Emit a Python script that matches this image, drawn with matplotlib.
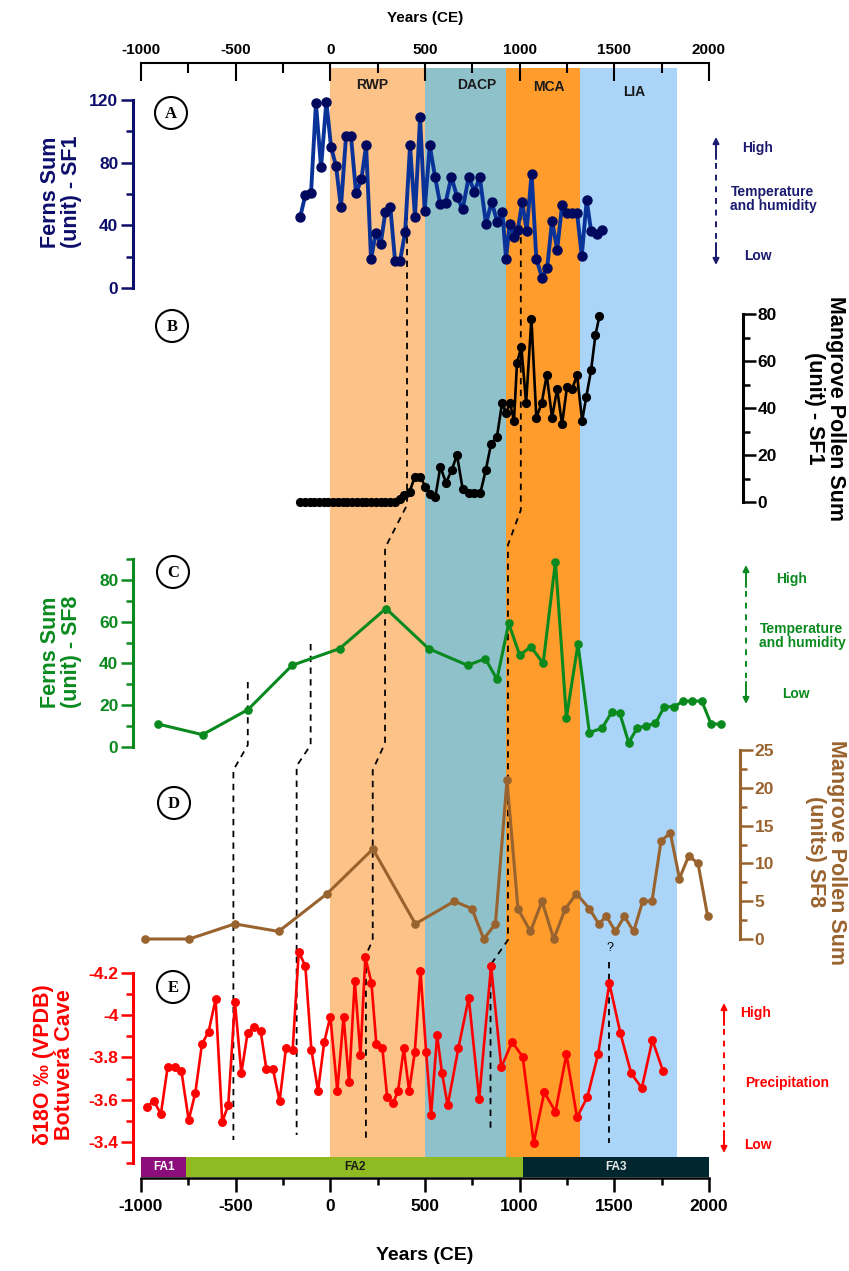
import matplotlib
matplotlib.use('Agg')
import matplotlib.pyplot as plt
from matplotlib.patches import Circle
from matplotlib.ticker import MultipleLocator, FuncFormatter

W, H, DPI = 849, 1271, 100
plt.rcParams['font.family'] = ['Liberation Sans', 'DejaVu Sans']
plt.rcParams['font.weight'] = 'bold'
plt.rcParams['axes.unicode_minus'] = False

# ---------------- data ----------------
# (A) Ferns sum SF1
a_years = [-159, -132, -102, -76, -49, -21, 4, 30, 56, 83, 109, 136, 164, 189, 215, 240,
           266, 291, 317, 342, 368, 395, 421, 447, 474, 498, 525, 553, 580, 609, 639, 670,
           699, 731, 761, 789, 822, 852, 882, 909, 928, 947, 972, 990, 1013, 1037, 1063,
           1088, 1118, 1145, 1171, 1198, 1224, 1250, 1277, 1303, 1328, 1354, 1377, 1407, 1433]
a_vals = [45.5, 59.3, 60.4, 118, 77, 119, 89.8, 77.9, 51.5, 97, 97, 60.4, 69.4, 91, 18.3, 35.3,
          28, 48.7, 51.5, 17.2, 17.2, 35.5, 91, 45.5, 109, 49.3, 91, 71, 53.6, 54.5, 71, 58,
          50.3, 71, 61.3, 71, 40.9, 55.1, 42, 48.6, 18.6, 40.9, 32.6, 36.9, 55, 36.6, 73,
          18.6, 6.7, 12.5, 43, 24.5, 52.8, 47.9, 47.9, 47.9, 20.6, 56, 36.6, 34.2, 36.8]

# (B) Mangrove pollen sum SF1
b_years = [-160, -135, -110, -85, -60, -35, -10, 15, 40, 65, 90, 115, 140, 165, 190, 215, 240,
           265, 290, 315, 340, 366, 388, 419, 446, 475, 502, 528, 555, 581, 611, 641, 669, 699,
           731, 761, 792, 821, 849, 880, 907, 928, 949, 970, 986, 1009, 1034, 1062, 1088, 1116,
           1143, 1171, 1198, 1224, 1250, 1277, 1303, 1330, 1352, 1377, 1400, 1421]
b_vals = [0, 0, 0, 0, 0, 0, 0, 0, 0, 0, 0, 0, 0, 0, 0, 0, 0,
          0, 0, 0, 0, 1.1, 3, 4.4, 10.8, 10.8, 6.5, 3.4, 2.3, 15, 8.2, 13.6, 20, 5.5,
          3.7, 3.7, 3.7, 13.6, 24.7, 27.8, 42, 38, 42, 34.6, 59.3, 66, 42, 78, 35.9, 42,
          54, 35.9, 48, 33, 49, 48, 54, 34.6, 44.8, 56, 71, 79]

# (C) Ferns sum SF8
c_years = [-911, -675, -435, -202, 49, 294, 519, 725, 819, 880, 942, 1000, 1060, 1124, 1189,
           1247, 1308, 1368, 1435, 1488, 1529, 1576, 1620, 1668, 1717, 1764, 1817, 1863, 1911,
           1962, 2011, 2064]
c_vals = [11, 5.9, 17.9, 39.1, 47.1, 66.3, 47.1, 39.1, 42.3, 32.4, 59.2, 44, 48, 40, 88.8,
          14, 49.3, 6.9, 9, 16.9, 16.1, 2.1, 9, 10.2, 11.3, 19.3, 19.3, 22, 22,
          22, 11, 11]

# (D) Mangrove pollen sum SF8
d_years = [-981, -745, -505, -273, -17, 225, 449, 655, 748, 810, 872, 933, 991, 1057, 1118,
           1180, 1241, 1300, 1368, 1418, 1458, 1506, 1553, 1602, 1650, 1699, 1747, 1796, 1844,
           1893, 1942, 1993]
d_vals = [0, 0, 2, 1, 6, 11.9, 2, 5, 4, 0, 2, 21, 4, 1, 5,
          0, 4, 6, 4, 2, 3, 1, 3, 1, 5, 5, 13, 14, 8,
          11, 10, 3]

# (E) d18O Botuvera cave
e_years = [-968, -933, -895, -859, -822, -787, -748, -713, -678, -643, -606, -571, -539, -504,
           -470, -437, -403, -368, -338, -303, -268, -234, -199, -167, -132, -100, -65, -32, 0,
           37, 70, 99, 129, 159, 185, 217, 243, 275, 300, 331, 358, 388, 416, 446, 476, 506,
           532, 564, 590, 620, 676, 731, 786, 849, 903, 960, 1016, 1074, 1130, 1189, 1247,
           1303, 1358, 1414, 1474, 1532, 1589, 1645, 1701, 1757]
e_vals = [-3.566, -3.595, -3.532, -3.756, -3.756, -3.737, -3.503, -3.633, -3.864, -3.922, -4.075,
          -3.494, -3.574, -4.063, -3.725, -3.917, -3.945, -3.925, -3.745, -3.745, -3.593, -3.846,
          -3.835, -4.30, -4.233, -3.835, -3.642, -3.874, -3.993, -3.642, -3.993, -3.682, -4.164,
          -3.811, -4.274, -4.154, -3.864, -3.843, -3.614, -3.582, -3.642, -3.843, -3.642, -3.824,
          -4.211, -3.824, -3.526, -3.905, -3.725, -3.573, -3.843, -4.083, -3.605, -4.233, -3.753,
          -3.874, -3.803, -3.396, -3.635, -3.543, -3.815, -3.516, -3.614, -3.815, -4.151, -3.914,
          -3.725, -3.655, -3.882, -3.736]

# climate periods
period_names = ['RWP', 'DACP', 'MCA', 'LIA']
period_start = [0, 500, 930, 1320]
period_end = [500, 930, 1320, 1830]
period_label_x = [220, 775, 1155, 1605]
period_colors = ['#FDC288', '#8FC1CB', '#FF9C2B', '#AAD5F9']

# FA zones
fa_names = ['FA1', 'FA2', 'FA3']
fa_start = [-1000, -760, 1020]
fa_end = [-760, 1020, 2000]
fa_colors = ['#8C0C7C', '#8FBA22', '#002630']
fa_text_colors = ['white', '#1a1a1a', '#e8e8e8']

# correlation (dashed) lines: year positions and layout rows
link_years = [[405, 405, 289, 289, 224, 224, 188, 188],
              [1006, 1006, 938, 938, 846, 846],
              [-104, -104, -178, -178],
              [-436, -436, -512, -512],
              [1472, 1472]]
link_rows = [[202, 505, 548, 743, 770, 940, 955, 1138],
             [202, 510, 545, 940, 965, 1133],
             [644, 745, 766, 1135],
             [682, 745, 770, 1140],
             [962, 1143]]

# ---------------- figure ----------------
fig = plt.figure(figsize=(W / DPI, H / DPI), dpi=DPI)


def box(x0, y0, x1, y1):
    return [x0 / W, 1 - y1 / H, (x1 - x0) / W, (y1 - y0) / H]


XL = (-1000, 2000)
X0, X1 = 141, 709

# background axis (shading, bottom axis, links)
bg = fig.add_axes(box(X0, 63, X1, 1178))
bg.set_xlim(XL)
bg.set_ylim(1178, 63)
bg.patch.set_visible(False)
for s in ['left', 'right', 'top']:
    bg.spines[s].set_visible(False)
bg.spines['bottom'].set_linewidth(1.8)
bg.set_yticks([])
bg.xaxis.set_major_locator(MultipleLocator(500))
bg.xaxis.set_minor_locator(MultipleLocator(250))
bg.tick_params(axis='x', which='major', direction='out', length=10, width=1.8,
               labelsize=12.5, pad=5)
bg.tick_params(axis='x', which='minor', direction='out', length=5, width=1.8)

for s, e, c in zip(period_start, period_end, period_colors):
    bg.fill_between([s, e], 68, 1157, color=c, lw=0, zorder=0)
for name, lx, yr in zip(period_names, period_label_x, [85, 85, 87, 92]):
    bg.text(lx, yr, name, ha='center', va='center', fontsize=10, color='#1a1a1a')
for name, s, e, c, tc in zip(fa_names, fa_start, fa_end, fa_colors, fa_text_colors):
    bg.fill_between([s, e], 1157, 1177, color=c, lw=0, zorder=1)
    bg.text((s + e) / 2, 1167.5, name, ha='center', va='center', fontsize=8.5, color=tc)
for xs, rs in zip(link_years, link_rows):
    bg.plot(xs, rs, color='black', lw=1.3, ls=(0, (3.5, 3)), zorder=2)

# top axis
tx = fig.add_axes(box(X0, 63, X1, 80))
tx.set_xlim(XL)
tx.patch.set_visible(False)
for s in ['left', 'right', 'bottom']:
    tx.spines[s].set_visible(False)
tx.spines['top'].set_linewidth(1.5)
tx.set_yticks([])
tx.xaxis.set_ticks_position('top')
tx.xaxis.set_label_position('top')
tx.xaxis.set_major_locator(MultipleLocator(500))
tx.xaxis.set_minor_locator(MultipleLocator(250))
tx.tick_params(axis='x', which='major', direction='in', length=13, width=1.5, labelsize=11, pad=4)
tx.tick_params(axis='x', which='minor', direction='in', length=7, width=1.5)


def panel(r0, r1, ylim, side, out_px, color, major, minor):
    ax = fig.add_axes(box(X0, r0, X1, r1))
    ax.set_xlim(XL)
    ax.set_ylim(*ylim)
    ax.patch.set_visible(False)
    for s in ['top', 'bottom', 'left', 'right']:
        ax.spines[s].set_visible(s == side)
    ax.spines[side].set_position(('outward', out_px * 72 / DPI))
    ax.spines[side].set_color(color)
    ax.spines[side].set_linewidth(2.2)
    ax.xaxis.set_visible(False)
    ax.yaxis.set_ticks_position(side)
    ax.yaxis.set_major_locator(MultipleLocator(major))
    ax.yaxis.set_minor_locator(MultipleLocator(minor))
    ax.tick_params(axis='y', which='major', length=9, width=1.8, colors=color,
                   labelsize=12.5, pad=1.5)
    ax.tick_params(axis='y', which='minor', length=5, width=1.8, colors=color)
    return ax


axA = panel(100, 288, (0, 120), 'left', 8, '#0d0d6b', 40, 20)
axA.plot(a_years, a_vals, '-o', color='#0a3399', lw=2.8, ms=6.5, mfc='#00095e', mec='#00095e',
         clip_on=False)

axB = panel(314, 502, (0, 80), 'right', 34, 'black', 20, 10)
axB.plot(b_years, b_vals, '-o', color='black', lw=1.9, ms=5.6, clip_on=False)

axC = panel(559, 747, (0, 90), 'left', 8, '#0a8a1e', 20, 10)
axC.plot(c_years, c_vals, '-o', color='#0a8a1e', lw=2.2, ms=5.2, clip_on=False)

axD = panel(750, 939, (0, 25), 'right', 31, '#99632f', 5, 2.5)
axD.plot(d_years, d_vals, '-o', color='#99632f', lw=2.2, ms=5.2, clip_on=False)

axE = panel(973, 1163, (-3.3, -4.2), 'left', 8, '#ff0000', 0.2, 0.1)
axE.yaxis.set_major_formatter(FuncFormatter(lambda v, p: '%g' % round(v, 2)))
axE.set_yticks([-4.2, -4.0, -3.8, -3.6, -3.4])
axE.plot(e_years, e_vals, '-o', color='#ff0000', lw=1.9, ms=5.4, clip_on=False)

# ---------------- overlay (text, letters, arrows) ----------------
ov = fig.add_axes([0, 0, 1, 1], zorder=10)
ov.set_xlim(0, W)
ov.set_ylim(H, 0)
ov.axis('off')

ov.text(425, 18, 'Years (CE)', ha='center', va='center', fontsize=11)
ov.text(425, 1255, 'Years (CE)', ha='center', va='center', fontsize=14)

for letter, (cx, cy) in zip('ABCDE', [(171, 113), (172, 326), (173, 572), (174, 803), (173, 987)]):
    ov.add_patch(Circle((cx, cy), 16, fill=False, lw=1.5, ec='black'))
    ov.text(cx, cy + 1, letter, ha='center', va='center', fontsize=12,
            family=['Liberation Serif', 'DejaVu Serif'])

lab_kw = dict(ha='center', va='center', multialignment='center', fontsize=15.5, linespacing=1.05)
ov.text(61, 192, 'Ferns Sum\n(unit) - SF1', rotation=90, color='#0d0d6b', **lab_kw)
ov.text(61, 652, 'Ferns Sum\n(unit) - SF8', rotation=90, color='#0a8a1e', **lab_kw)
ov.text(54, 1065, 'δ18O ‰ (VPDB)\nBotuverá Cave', rotation=90, color='#ff0000', **lab_kw)
ov.text(825, 408, 'Mangrove Pollen Sum\n(unit) - SF1', rotation=270, color='black', **lab_kw)
ov.text(826, 852, 'Mangrove Pollen Sum\n(units) SF8', rotation=270, color='#99632f', **lab_kw)


def updown(x, ytop, ybot, color, texts):
    ov.annotate('', xy=(x, ytop), xytext=(x, ytop + 22),
                arrowprops=dict(arrowstyle='-|>', color=color, lw=1.4, mutation_scale=9,
                                shrinkA=0, shrinkB=0))
    ov.annotate('', xy=(x, ybot), xytext=(x, ybot - 22),
                arrowprops=dict(arrowstyle='-|>', color=color, lw=1.4, mutation_scale=9,
                                shrinkA=0, shrinkB=0))
    ov.plot([x, x], [ytop + 26, ybot - 26], color=color, lw=1.4, ls=(0, (3, 3)))
    for tx_, ty_, s in texts:
        ov.text(tx_, ty_, s, ha='center', va='center', fontsize=10, color=color,
                multialignment='center', linespacing=1.05)


updown(716, 137, 265, '#1a1a6e', [(758, 148, 'High'), (773, 199, 'Temperature\nand humidity'),
                                   (758, 256, 'Low')])
updown(746, 565, 704, '#0a8a1e', [(792, 579, 'High'), (802, 636, 'Temperature\nand humidity'),
                                   (796, 694, 'Low')])
updown(724, 1003, 1153, '#ff0000', [(756, 1013, 'High'), (787, 1083, 'Precipitation'),
                                     (758, 1145, 'Low')])
ov.text(610, 948, '?', ha='center', va='center', fontsize=9, fontweight='normal', color='black')

fig.savefig('out.png', dpi=DPI)
